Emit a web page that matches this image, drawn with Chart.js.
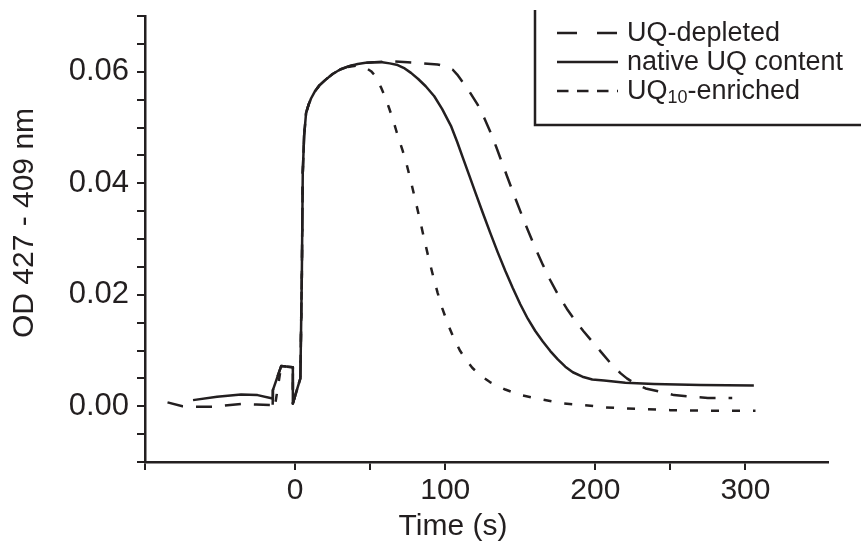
<!DOCTYPE html>
<html>
<head>
<meta charset="utf-8">
<title>OD 427 - 409 nm vs time</title>
<script src="https://cdn.jsdelivr.net/npm/chart.js@4.4.1/dist/chart.umd.min.js"></script>
<style>
  html, body { margin: 0; padding: 0; background: #fff; }
  canvas { display: block; }
</style>
</head>
<body>
<canvas id="chart" width="861" height="549"></canvas>
<script>
// series names (legend order)
const seriesNames = ['UQ-depleted', 'native UQ content', 'UQ10-enriched'];

// UQ-depleted (long dashes)
const depletedTime = [-85, -75, -65, -55, -45, -36, -26, -16, -15, -14.8, -9.3, -1.5, -1.5, 3.5, 4.5, 5.1, 6, 7.3, 9, 10.6, 13, 16, 20, 25, 30, 36, 41.7, 47, 52.8, 62.7, 75, 86, 94.9, 100, 104.9, 108, 110.4, 113, 116, 121.6, 126, 130.4, 134, 137, 141, 145, 150, 155, 160, 165, 170, 175, 181, 187, 192, 197, 203.6, 210.2, 216.9, 221, 225.7, 233.5, 243.5, 252.4, 263.5, 275, 291.2];
const depletedOD = [0.0007, 0.0000, -0.0001, -0.0001, 0.0002, 0.0004, 0.0003, 0.0002, -0.0008, 0.0029, 0.0072, 0.0070, 0.0005, 0.0050, 0.0239, 0.0419, 0.0485, 0.0526, 0.0541, 0.0552, 0.0564, 0.0575, 0.0585, 0.0596, 0.0604, 0.0610, 0.0614, 0.0616, 0.0617, 0.0619, 0.0617, 0.0615, 0.0613, 0.0610, 0.0604, 0.0595, 0.0586, 0.0576, 0.0565, 0.0541, 0.0517, 0.0490, 0.0465, 0.0443, 0.0414, 0.0385, 0.0350, 0.0316, 0.0284, 0.0254, 0.0226, 0.0201, 0.0175, 0.0152, 0.0135, 0.0119, 0.0098, 0.0077, 0.0059, 0.0050, 0.0042, 0.0032, 0.0026, 0.0020, 0.0017, 0.0015, 0.0015];

// native UQ content (solid)
const nativeTime = [-68, -52, -36, -25, -15, -14.8, -9.3, -1.5, -1.5, 3.5, 4.5, 5.1, 6, 7.3, 9, 10.6, 13, 16, 20, 25, 30, 36, 41.7, 47, 52.8, 58, 63, 68.3, 73, 77.2, 82, 87, 92.7, 98, 103.8, 108, 111.6, 116, 120, 125, 130, 135, 140, 145, 150, 155, 160, 165, 170, 175, 180, 185, 191.4, 198, 205.8, 220, 239.1, 270, 305.6];
const nativeOD = [0.0011, 0.0017, 0.0021, 0.0020, 0.0014, 0.0029, 0.0072, 0.0070, 0.0005, 0.0050, 0.0239, 0.0419, 0.0485, 0.0526, 0.0541, 0.0552, 0.0564, 0.0575, 0.0585, 0.0596, 0.0604, 0.0610, 0.0614, 0.0616, 0.0617, 0.0617, 0.0615, 0.0612, 0.0606, 0.0598, 0.0587, 0.0574, 0.0556, 0.0533, 0.0503, 0.0474, 0.0447, 0.0414, 0.0384, 0.0347, 0.0311, 0.0276, 0.0243, 0.0212, 0.0183, 0.0157, 0.0135, 0.0116, 0.0099, 0.0084, 0.0071, 0.0061, 0.0053, 0.0048, 0.0046, 0.0042, 0.0040, 0.0038, 0.0037];

// UQ10-enriched (short dashes)
const enrichedTime = [-13, -9.3, -1.5, -1.5, 3.5, 4.5, 5.1, 6, 7.3, 9, 10.6, 13, 16, 20, 25, 30, 36, 40.6, 44, 47, 50.6, 53.9, 57.2, 59.9, 62.7, 65, 67.2, 69, 71.7, 74, 77, 80, 83, 86, 89, 92, 95, 98, 102, 106, 110, 114, 118, 124, 130, 140, 150.4, 164.8, 179.2, 192.5, 207, 221.3, 250, 279, 306.7];
const enrichedOD = [0.0008, 0.0072, 0.0070, 0.0005, 0.0050, 0.0239, 0.0419, 0.0485, 0.0526, 0.0541, 0.0552, 0.0564, 0.0575, 0.0585, 0.0596, 0.0604, 0.0609, 0.0611, 0.0610, 0.0607, 0.0601, 0.0591, 0.0572, 0.0555, 0.0534, 0.0516, 0.0496, 0.0480, 0.0458, 0.0437, 0.0405, 0.0371, 0.0336, 0.0300, 0.0265, 0.0233, 0.0203, 0.0176, 0.0146, 0.0120, 0.0099, 0.0083, 0.0069, 0.0054, 0.0043, 0.0030, 0.0020, 0.0012, 0.0005, 0.0002, -0.0002, -0.0004, -0.0007, -0.0008, -0.0008];

// axis ticks
const xTickValues = [-100, 0, 50, 100, 200, 250, 300];
const xTickLabels = [0, 100, 200, 300];
const yTickValues = [-0.01, -0.005, 0, 0.005, 0.01, 0.015, 0.02, 0.025, 0.03, 0.035, 0.04, 0.045, 0.05, 0.055, 0.06, 0.065, 0.07];
const yTickLabels = ['0.00', '0.02', '0.04', '0.06'];

const ink = '#231f20';
const font = "'Liberation Sans', Arial, sans-serif";

function pairs(xs, ys) {
    return xs.map((x, i) => ({ x: x, y: ys[i] }));
}

const decorPlugin = {
    id: 'decor',
    afterDraw(chart) {
        const ctx = chart.ctx;
        ctx.save();
        ctx.fillStyle = ink;
        ctx.strokeStyle = ink;

        // axis titles
        ctx.font = '30px ' + font;
        ctx.textAlign = 'center';
        ctx.textBaseline = 'middle';
        ctx.fillText('Time (s)', 453, 527);
        ctx.save();
        ctx.translate(25, 223);
        ctx.rotate(-Math.PI / 2);
        ctx.fillText('OD 427 - 409 nm', 0, 0);
        ctx.restore();

        // legend box (open to the top and right)
        ctx.lineWidth = 2.5;
        ctx.beginPath();
        ctx.moveTo(535, 10);
        ctx.lineTo(535, 125);
        ctx.lineTo(861, 125);
        ctx.stroke();

        const rows = [33, 62, 91];
        const dashes = [[20, 20], [], [11.5, 8.5]];
        ctx.lineWidth = 2.5;
        rows.forEach((y, i) => {
            ctx.setLineDash(dashes[i]);
            ctx.beginPath();
            ctx.moveTo(557, y);
            ctx.lineTo(618, y);
            ctx.stroke();
        });
        ctx.setLineDash([]);

        ctx.textAlign = 'left';
        ctx.textBaseline = 'middle';
        ctx.font = '27px ' + font;
        ctx.fillText(seriesNames[0], 627, rows[0] + 1);
        ctx.fillText(seriesNames[1], 627, rows[1] + 1);
        // UQ10-enriched with subscript
        const base = seriesNames[2].split('10');
        let x = 627;
        ctx.fillText(base[0], x, rows[2] + 1);
        x += ctx.measureText(base[0]).width;
        ctx.font = '18px ' + font;
        ctx.fillText('10', x, rows[2] + 7);
        x += ctx.measureText('10').width;
        ctx.font = '27px ' + font;
        ctx.fillText(base[1], x, rows[2] + 1);
        ctx.restore();
    }
};

new Chart(document.getElementById('chart'), {
    type: 'line',
    data: {
        datasets: [
            {
                label: seriesNames[0],
                data: pairs(depletedTime, depletedOD),
                borderColor: ink,
                borderWidth: 2.5,
                borderDash: [16, 13],
                order: 1
            },
            {
                label: seriesNames[1],
                data: pairs(nativeTime, nativeOD),
                borderColor: ink,
                borderWidth: 2.5,
                order: 0
            },
            {
                label: seriesNames[2],
                data: pairs(enrichedTime, enrichedOD),
                borderColor: ink,
                borderWidth: 2.5,
                borderDash: [8, 13],
                order: 2
            }
        ]
    },
    options: {
        responsive: false,
        animation: false,
        devicePixelRatio: 1,
        layout: { padding: { top: 16, right: 33, left: 0, bottom: 0 } },
        elements: {
            point: { radius: 0 },
            line: { tension: 0, fill: false, borderCapStyle: 'butt', borderJoinStyle: 'round' }
        },
        plugins: {
            legend: { display: false },
            tooltip: { enabled: false }
        },
        scales: {
            x: {
                type: 'linear',
                min: -100,
                max: 355,
                afterBuildTicks: (scale) => {
                    scale.ticks = xTickValues.map(v => ({ value: v }));
                },
                afterFit: (scale) => {
                    scale.height = 87;
                    scale.paddingLeft = 0;
                    scale.paddingRight = 0;
                },
                border: { display: true, color: ink, width: 2.5 },
                grid: { drawOnChartArea: false, color: ink, lineWidth: 2, tickLength: 8 },
                ticks: {
                    autoSkip: false,
                    maxRotation: 0,
                    padding: 3,
                    color: ink,
                    font: { family: font, size: 30 },
                    callback: (v) => xTickLabels.includes(v) ? String(v) : ''
                }
            },
            y: {
                type: 'linear',
                min: -0.01,
                max: 0.07,
                afterBuildTicks: (scale) => {
                    scale.ticks = yTickValues.map(v => ({ value: v }));
                },
                afterFit: (scale) => {
                    scale.width = 145;
                    scale.paddingTop = 0;
                    scale.paddingBottom = 0;
                },
                border: { display: true, color: ink, width: 2.5 },
                grid: { drawOnChartArea: false, color: ink, lineWidth: 2, tickLength: 8 },
                ticks: {
                    autoSkip: false,
                    padding: 8,
                    color: ink,
                    font: { family: font, size: 31 },
                    callback: (v) => {
                        const s = v.toFixed(2);
                        return (yTickLabels.includes(s) && Math.abs(v * 100 - Math.round(v * 100)) < 1e-6 && Math.round(v * 100) % 2 === 0) ? s : '';
                    }
                }
            }
        }
    },
    plugins: [decorPlugin]
});
</script>
</body>
</html>
